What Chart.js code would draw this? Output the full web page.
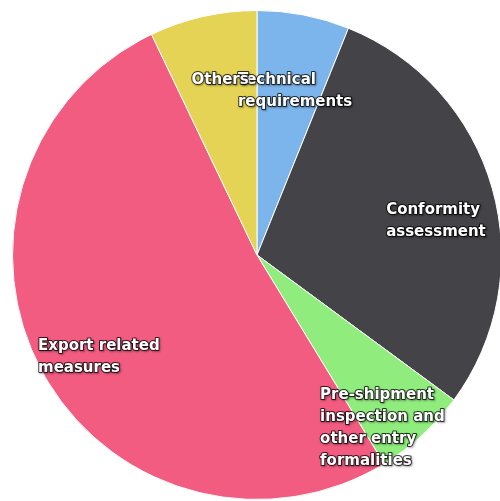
<!DOCTYPE html>
<html>
<head>
<meta charset="utf-8">
<script src="https://cdn.jsdelivr.net/npm/chart.js@4/dist/chart.umd.min.js"></script>
<style>
  html, body { margin: 0; padding: 0; background: #fff; overflow: hidden; }
  #wrap { position: relative; width: 514px; height: 501px; }
</style>
</head>
<body>
<div id="wrap"><canvas id="pieChart"></canvas></div>
<script>
// slices, clockwise from 12 o'clock
const categories = [
    "Technical requirements",
    "Conformity assessment",
    "Pre-shipment inspection and other entry formalities",
    "Export related measures",
    "Others"
];
const shares = [6.1, 29.0, 6.2, 51.6, 7.1];
const sliceColors = ['#7cb5ec', '#434348', '#90ed7d', '#f15c80', '#e4d354'];

// how each label is broken into lines
const labelLines = [
    ["Technical", "requirements"],
    ["Conformity", "assessment"],
    ["Pre-shipment", "inspection and", "other entry", "formalities"],
    ["Export related", "measures"],
    ["Others"]
];
// nudge from the slice mid point (at 60% of radius) to the label's left/middle
const labelNudge = [[-47, -20], [-12, 6], [-36, 65], [-90, 32], [-33, -32]];

const sliceLabels = {
    id: 'sliceLabels',
    afterDatasetsDraw(chart) {
        const ctx = chart.ctx;
        const meta = chart.getDatasetMeta(0);
        ctx.save();
        ctx.font = 'bold 15px "DejaVu Sans"';
        ctx.textBaseline = 'middle';
        ctx.textAlign = 'left';
        ctx.lineJoin = 'round';
        meta.data.forEach((arc, i) => {
            const mid = (arc.startAngle + arc.endAngle) / 2;
            const r = arc.outerRadius * 0.6;
            const x = arc.x + Math.cos(mid) * r + labelNudge[i][0];
            const lines = labelLines[i];
            const lh = 22;
            let y = arc.y + Math.sin(mid) * r + labelNudge[i][1] - (lines.length - 1) * lh / 2;
            lines.forEach(t => {
                ctx.shadowColor = 'rgba(0,0,0,0.45)';
                ctx.shadowBlur = 2;
                ctx.shadowOffsetX = 1;
                ctx.shadowOffsetY = 1;
                ctx.strokeStyle = 'rgba(0,0,0,0.75)';
                ctx.lineWidth = 2;
                ctx.strokeText(t, x, y);
                ctx.shadowColor = 'transparent';
                ctx.fillStyle = '#ffffff';
                ctx.fillText(t, x, y);
                y += lh;
            });
        });
        ctx.restore();
    }
};

new Chart(document.getElementById('pieChart'), {
    type: 'pie',
    data: {
        labels: categories,
        datasets: [{
            data: shares,
            backgroundColor: sliceColors,
            borderColor: '#ffffff',
            borderWidth: 1
        }]
    },
    options: {
        responsive: true,
        maintainAspectRatio: false,
        animation: false,
        layout: { padding: { left: 12, right: 12, top: 10, bottom: 1 } },
        plugins: {
            legend: { display: false },
            tooltip: { enabled: false }
        }
    },
    plugins: [sliceLabels]
});
</script>
</body>
</html>
